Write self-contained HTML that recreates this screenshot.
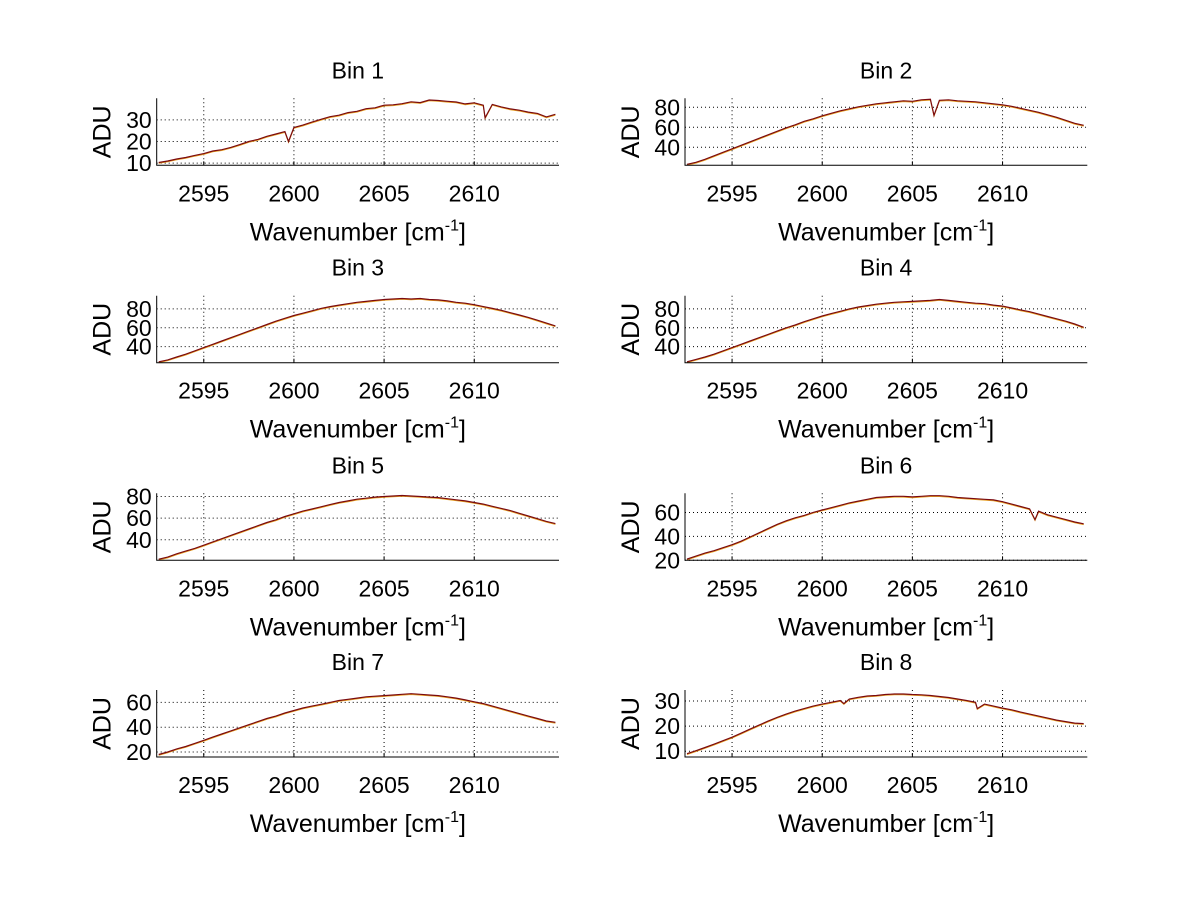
<!DOCTYPE html>
<html><head><meta charset="utf-8"><style>
html,body{margin:0;padding:0;background:#fff;}
svg text{font-family:"Liberation Sans",Arial,sans-serif;fill:#000;}
</style></head><body>
<svg id="fig" width="1200" height="901" viewBox="0 0 1200 901" xmlns="http://www.w3.org/2000/svg"></svg>
<script>
const wavenumber=[2592.5,2593,2593.5,2594,2594.5,2595,2595.5,2596,2596.5,2597,2597.5,2598,2598.5,2599,2599.5,2600,2600.5,2601,2601.5,2602,2602.5,2603,2603.5,2604,2604.5,2605,2605.5,2606,2606.5,2607,2607.5,2608,2608.5,2609,2609.5,2610,2610.5,2611,2611.5,2612,2612.5,2613,2613.5,2614,2614.5];
const xTicks=[2595,2600,2605,2610];
const xRange=[2592.39,2614.7];
const bin1=[10.3,11.0,11.9,12.6,13.6,14.4,15.6,16.2,17.3,18.6,20.0,21.0,22.4,23.5,24.6,26.5,27.6,29.0,30.3,31.5,32.2,33.4,34.0,35.2,35.6,36.8,37.0,37.5,38.4,38.0,39.2,39.0,38.6,38.3,37.4,37.9,36.8,37.2,36.0,35.1,34.5,33.6,33.0,31.4,32.6];
const bin2=[23,25,28,31.5,35,38.5,42,45.5,49,52.5,56,59.5,62.5,66,68.5,71.5,74,76.5,78.5,80.5,82,83.5,84.5,85.5,86.5,86,87.5,88,87,87.5,86.5,86,85.5,84.5,83.5,82.5,81,79,77,75,72.5,70,67,64,62];
const bin3=[24,26,29,32,35.5,39,42.5,46,49.5,53,56.5,60,63.5,67,70,73,75.5,78,80.5,82.5,84,85.5,87,88,89,90,90.5,91,90.5,91,90,89.5,88.5,87,86,84.5,82.5,80.5,78.5,76,73.5,71,68,65,62];
const bin4=[24,26.5,29,32,35.5,39,42.5,46,49.5,53,56.5,60,63,66.5,69.5,72.5,75,77.5,80,82,83.5,85,86,87,87.5,88,88.5,89,90,89,88,87,86,85.5,84,83,81,79,77,74.5,72,69.5,67,64,60.5];
const bin5=[22,24,27,29.5,32,35,38,41,44,47,50,53,56,58.5,61.5,64,66.5,68.5,70.5,72.5,74.5,76,77.5,78.5,79.5,80,80.5,81,80.5,80,79.5,79,78,77,76,74.5,73,71,69,67,64.5,62,59.5,57,55];
const bin6=[21,23.5,26,28,30.5,33,36,39.5,43,46.5,50,53,55.5,57.5,60,62,64,66,68,69.5,71,72.5,73,73.5,73.5,73,73.5,74,74,73.5,72.5,72,71.5,71,70.5,69,67,65,63,61,58,56,54,52,50.5];
const bin7=[18,20,22.5,24.5,27,29.5,32,34.5,37,39.5,42,44.5,47,49,51.5,53.5,55.5,57,58.5,60,61.5,62.5,63.5,64.5,65,65.5,66,66.5,67,66.5,66,65.5,64.5,63.5,62,60.5,59,57,55,53,51,49,47,45,44];
const bin8=[9,10.2,11.5,12.8,14.2,15.6,17.2,18.8,20.4,22,23.5,24.8,26,27,28,28.8,29.5,30.2,30.8,31.5,32,32.2,32.6,32.8,32.8,32.6,32.5,32.2,31.8,31.4,30.8,30.2,29.5,28.8,28,27.2,26.5,25.6,24.8,24,23.2,22.4,21.8,21.2,21];
const dips1=[[2599.7,20],[2610.6,31]];
const dips2=[[2606.2,72]];
const dips6=[[2611.8,54]];
const dips8=[[2601.2,29],[2608.6,27]];
const yRanges=[[9,40],[22,89],[23,94],[23,94],[21,83],[20,76],[16,70],[7.7,34.4]];
const yTicks=[[10,20,30],[40,60,80],[40,60,80],[40,60,80],[40,60,80],[20,40,60],[20,40,60],[10,20,30]];
const titles=["Bin 1","Bin 2","Bin 3","Bin 4","Bin 5","Bin 6","Bin 7","Bin 8"];

const series=[bin1,bin2,bin3,bin4,bin5,bin6,bin7,bin8];
const dips=[dips1,dips2,[],[],[],dips6,[],dips8];
const NS="http://www.w3.org/2000/svg";
const svg=document.getElementById('fig');
function mk(tag,attrs,parent){const e=document.createElementNS(NS,tag);for(const k in attrs)e.setAttribute(k,attrs[k]);parent.appendChild(e);return e;}
const lefts=[156.7,685], W=402.3, tops=[98.3,295.7,493.3,690], H=67;
for(let i=0;i<8;i++){
  const L=lefts[i%2], T=tops[Math.floor(i/2)];
  const g=mk('g',{},svg);
  
  
  const yr=yRanges[i];
  const xs=v=>L+(v-xRange[0])/(xRange[1]-xRange[0])*W;
  const ys=v=>T+H-(v-yr[0])/(yr[1]-yr[0])*H;
  xTicks.forEach(t=>{
    const l=mk('line',{x1:xs(t),x2:xs(t),y1:T,y2:T+H,stroke:'#000','stroke-width':1,'stroke-dasharray':'1,3'},g);
    
    
    const tk=mk('line',{x1:xs(t),x2:xs(t),y1:T+H,y2:T+H-4,stroke:'#000'},g);
    
    
    const tx=mk('text',{x:xs(t),y:T+H+36,'font-size':23,'text-anchor':'middle'},g);
    tx.textContent=t;
    
    
  });
  yTicks[i].forEach(t=>{
    const l=mk('line',{x1:L,x2:L+W,y1:ys(t),y2:ys(t),stroke:'#000','stroke-width':1,'stroke-dasharray':'1,3'},g);
    
    
    const tx=mk('text',{x:L-5,y:ys(t)+8,'font-size':23,'text-anchor':'end'},g);
    tx.textContent=t;
    
    
  });
  const pts=wavenumber.map((x,j)=>[x,series[i][j]]).concat(dips[i]).sort((a,b)=>a[0]-b[0]);
  const d=pts.map((p,j)=>(j?'L':'M')+xs(p[0]).toFixed(1)+','+ys(p[1]).toFixed(1)).join('');
  const p2=mk('path',{d:d,fill:'none',stroke:'#e8a020','stroke-width':1,transform:'translate(0,0.8)'},g);
  
  
  const p=mk('path',{d:d,fill:'none',stroke:'#7a0a10','stroke-width':1.2},g);
  
  
  const ax=mk('path',{d:`M${L},${T}L${L},${T+H}L${L+W},${T+H}`,fill:'none',stroke:'#000','stroke-width':1},g);
  
  
  const ti=mk('text',{x:L+W/2,y:T-20,'font-size':23,'text-anchor':'middle'},g);
  ti.textContent=titles[i];
  
  
  const xl=mk('text',{x:L+W/2,y:T+H+75,'font-size':25,'text-anchor':'middle'},g);
  xl.innerHTML='Wavenumber [cm<tspan dy="-10" font-size="16">-1</tspan><tspan dy="10">]</tspan>';
  
  
  const yl=mk('text',{x:0,y:0,'font-size':25,'text-anchor':'middle',transform:`translate(${L-46},${T+H/2}) rotate(-90)`},g);
  yl.textContent='ADU';
  
  
}
</script>
</body></html>
